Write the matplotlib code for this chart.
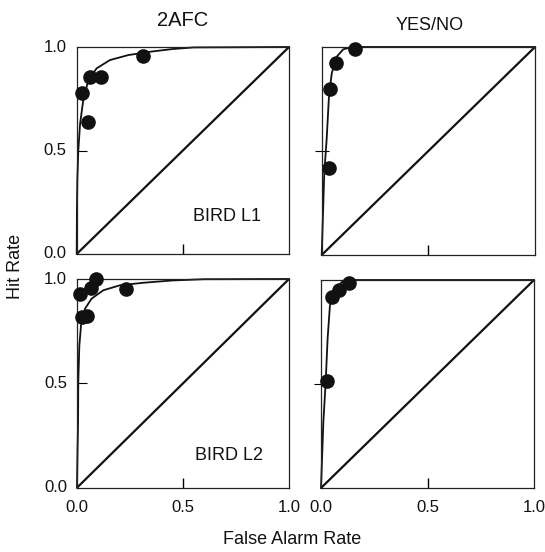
import matplotlib
matplotlib.use("Agg")
import matplotlib.pyplot as plt

plt.rcParams['font.family'] = ['Liberation Sans', 'DejaVu Sans']

column_titles = ["2AFC", "YES/NO"]
bird_labels = ["BIRD L1", "BIRD L2"]
tick_values = [0.0, 0.5, 1.0]
tick_labels = ["0.0", "0.5", "1.0"]

# Observed points (false alarm rate, hit rate)
l1_2afc_fa = [0.026, 0.063, 0.113, 0.052, 0.31]
l1_2afc_hit = [0.78, 0.855, 0.855, 0.64, 0.957]
l1_yn_fa = [0.158, 0.066, 0.0375, 0.033]
l1_yn_hit = [0.99, 0.925, 0.80, 0.42]
l2_2afc_fa = [0.09, 0.014, 0.066, 0.23, 0.022, 0.046]
l2_2afc_hit = [1.0, 0.926, 0.955, 0.952, 0.82, 0.823]
l2_yn_fa = [0.131, 0.085, 0.053, 0.027]
l2_yn_hit = [0.984, 0.952, 0.917, 0.514]

# Fitted ROC curves
l1_2afc_curve_fa = [0.0, 0.001, 0.003, 0.0075, 0.016, 0.031, 0.055, 0.094, 0.157, 0.243, 0.345, 0.45, 0.55, 1.0]
l1_2afc_curve_hit = [0.0, 0.2, 0.357, 0.50, 0.63, 0.744, 0.84, 0.897, 0.937, 0.961, 0.977, 0.99, 0.998, 1.0]
l1_yn_curve_fa = [0.0, 0.012, 0.023, 0.034, 0.047, 0.07, 0.101, 0.14, 0.18, 1.0]
l1_yn_curve_hit = [0.0, 0.393, 0.553, 0.761, 0.873, 0.953, 0.989, 0.999, 1.0, 1.0]
l2_2afc_curve_fa = [0.0, 0.002, 0.005, 0.006, 0.011, 0.019, 0.038, 0.069, 0.124, 0.203, 0.313, 0.45, 0.6, 1.0]
l2_2afc_curve_hit = [0.0, 0.15, 0.315, 0.506, 0.68, 0.778, 0.858, 0.906, 0.946, 0.97, 0.982, 0.993, 0.999, 1.0]
l2_yn_curve_fa = [0.0, 0.011, 0.022, 0.031, 0.042, 0.066, 0.097, 0.128, 0.16, 1.0]
l2_yn_curve_hit = [0.0, 0.317, 0.51, 0.718, 0.878, 0.95, 0.99, 0.999, 1.0, 1.0]

panels = [
    (l1_2afc_fa, l1_2afc_hit, l1_2afc_curve_fa, l1_2afc_curve_hit),
    (l1_yn_fa, l1_yn_hit, l1_yn_curve_fa, l1_yn_curve_hit),
    (l2_2afc_fa, l2_2afc_hit, l2_2afc_curve_fa, l2_2afc_curve_hit),
    (l2_yn_fa, l2_yn_hit, l2_yn_curve_fa, l2_yn_curve_hit),
]

W, H = 545, 552
fig = plt.figure(figsize=(W / 100, H / 100), dpi=100)

# axes boxes in pixels: left, top, right, bottom
boxes = [
    (76.7, 47, 289, 254),
    (321.7, 47, 535, 255),
    (77, 279, 289, 487.7),
    (321, 280, 534, 488),
]

axes = []
for (l, t, r, b) in boxes:
    ax = fig.add_axes([l / W, 1 - b / H, (r - l) / W, (b - t) / H])
    axes.append(ax)

for i, (ax, (fa, hit, cfa, chit)) in enumerate(zip(axes, panels)):
    ax.plot([0, 1], [0, 1], color='#111111', lw=1.6, solid_capstyle='butt')
    ax.plot(cfa, chit, color='#111111', lw=1.3, clip_on=False)
    ax.plot(fa, hit, 'o', color='#111111', ms=9.5, clip_on=False, zorder=5)
    ax.set_xlim(0, 1)
    ax.set_ylim(0, 1)
    for s in ax.spines.values():
        s.set_linewidth(0.9)
        s.set_color('#222222')
    ax.set_xticks([0.5])
    ax.set_yticks([0.5])
    ax.tick_params(axis='x', direction='in', length=7, width=1.0, labelbottom=False)
    if i % 2 == 0:
        ax.tick_params(axis='y', direction='in', length=7, width=0.8, labelleft=False)
    else:
        ax.tick_params(axis='y', direction='inout', length=10, width=0.8, labelleft=False)
    row = i // 2
    col = i % 2
    if col == 0:
        for v, lab in zip(tick_values, tick_labels):
            ax.text(-0.047, v, lab, transform=ax.transAxes, ha='right', va='center', fontsize=12, color='#111111')
    if row == 1:
        for v, lab in zip(tick_values, tick_labels):
            ax.text(v, -0.058, lab, transform=ax.transAxes, ha='center', va='top', fontsize=12, color='#111111')

axes[0].text(0.55, 0.18, bird_labels[0], transform=axes[0].transAxes, ha='left', va='center', fontsize=13, color='#111111')
axes[2].text(0.557, 0.152, bird_labels[1], transform=axes[2].transAxes, ha='left', va='center', fontsize=13, color='#111111')

fig.text(183 / W, 1 - 21 / H, column_titles[0], ha='center', va='center', fontsize=14.5, color='#111111')
fig.text(430 / W, 1 - 25.5 / H, column_titles[1], ha='center', va='center', fontsize=13, color='#111111')
fig.text(15 / W, 1 - 266 / H, "Hit Rate", ha='center', va='center', rotation=90, fontsize=13, color='#111111')
fig.text(292 / W, 1 - 539 / H, "False Alarm Rate", ha='center', va='center', fontsize=13, color='#111111')

fig.savefig("out.png", dpi=100)
